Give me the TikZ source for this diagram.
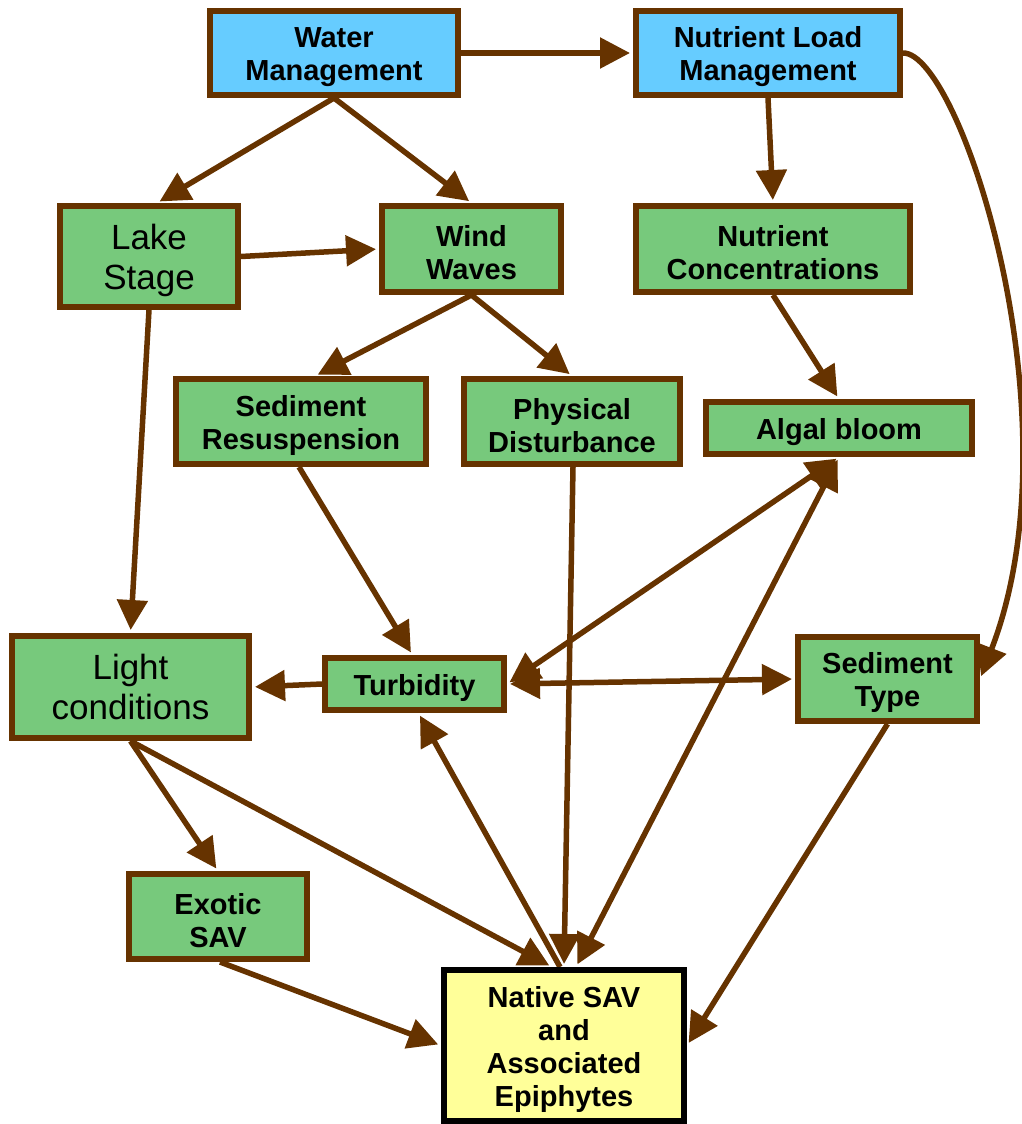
\documentclass[tikz,border=0pt]{standalone}
\usepackage{fontspec}
\setmainfont{Liberation Sans}
\usetikzlibrary{arrows.meta}
\pgfdeclarelayer{bg}
\pgfsetlayers{bg,main}
\definecolor{brn}{RGB}{102,51,0}
\definecolor{grn}{RGB}{119,201,124}
\definecolor{blu}{RGB}{102,204,255}
\definecolor{ylw}{RGB}{255,255,153}
\newcommand\tstrut{\rule{0pt}{29pt}}
\newcommand\bstrut{\rule{0pt}{33pt}}
\begin{document}
\begin{tikzpicture}[x=1pt,y=-1pt,
  box/.style={draw=brn,line width=6pt,fill=grn,align=center,inner sep=0pt,
    font=\fontsize{29}{33}\selectfont\bfseries},
  mgmt/.style={box,fill=blu},
  bigtxt/.style={box,font=\fontsize{35}{40}\selectfont},
  goal/.style={box,draw=black,fill=ylw},
  arr/.style={draw=brn,line width=5.5pt,-{Triangle[length=30pt,width=30pt]},shorten >=3pt},
  darr/.style={arr,{Triangle[length=30pt,width=30pt]}-{Triangle[length=30pt,width=30pt]},shorten <=3pt}]
\useasboundingbox (0,0) rectangle (1021,1124);
\node[mgmt,minimum width=248pt,minimum height=84pt] (wm) at (334,53) {\tstrut Water\\Management};
\node[mgmt,minimum width=264pt,minimum height=84pt] (nlm) at (768,53) {\tstrut Nutrient Load\\Management};
\node[bigtxt,minimum width=178pt,minimum height=101pt] (ls) at (149,256.5) {\bstrut Lake\\Stage};
\node[box,minimum width=179pt,minimum height=86pt] (ww) at (471.5,249) {\tstrut Wind\\Waves};
\node[box,minimum width=274pt,minimum height=86pt] (nc) at (773,249) {\tstrut Nutrient\\Concentrations};
\node[box,minimum width=250pt,minimum height=85pt] (sr) at (301,421.5) {\tstrut Sediment\\Resuspension};
\node[box,minimum width=216pt,minimum height=85pt] (pd) at (572,421.5) {\tstrut Physical\\Disturbance};
\node[box,minimum width=266pt,minimum height=52pt] (ab) at (839,428) {\tstrut Algal bloom};
\node[bigtxt,minimum width=237pt,minimum height=102pt] (lc) at (130.5,687) {Light\\conditions};
\node[box,minimum width=179pt,minimum height=52pt] (tb) at (414.5,684) {\tstrut Turbidity};
\node[box,minimum width=179pt,minimum height=84pt] (st) at (887.5,679) {\tstrut Sediment\\Type};
\node[box,minimum width=178pt,minimum height=85pt] (ex) at (218,916.5) {\tstrut Exotic\\SAV};
\node[goal,minimum width=240pt,minimum height=151pt] (ns) at (564,1045.5) {\tstrut Native SAV\\and\\Associated\\Epiphytes};
\begin{pgfonlayer}{bg}
\draw[arr] (wm.east) -- (nlm.west);
\draw[arr] (wm.south) -- ([xshift=8pt]ls.north);
\draw[arr] (wm.south) -- (ww.north);
\draw[arr] (nlm.south) -- (nc.north);
\draw[arr] (nlm.east) .. controls (960,52) and (1080,420) .. (st.east);
\draw[arr] (ls.east) -- (ww.west);
\draw[arr] (ww.south) -- ([xshift=14pt]sr.north);
\draw[arr] (ww.south) -- (pd.north);
\draw[arr] (nc.south) -- (ab.north);
\draw[arr] (ls.south) -- (lc.north);
\draw[arr] ([xshift=-2pt]sr.south) -- ([xshift=-2pt]tb.north);
\draw[arr] ([xshift=1pt]pd.south) -- (ns.north);
\draw[darr] (tb.east) -- (ab.south);
\draw[darr] ([xshift=12pt]ns.north) -- (ab.south);
\draw[darr] (tb.east) -- (st.west);
\draw[arr] (tb.west) -- (lc.east);
\draw[arr] (lc.south) -- (ex.north);
\draw[arr] (lc.south) -- ([xshift=-12pt]ns.north);
\draw[arr] ([xshift=-4pt]ns.north) -- ([xshift=4pt]tb.south);
\draw[arr] ([xshift=2pt]ex.south) -- (ns.west);
\draw[arr] (st.south) -- (ns.east);
\end{pgfonlayer}
\end{tikzpicture}
\end{document}
